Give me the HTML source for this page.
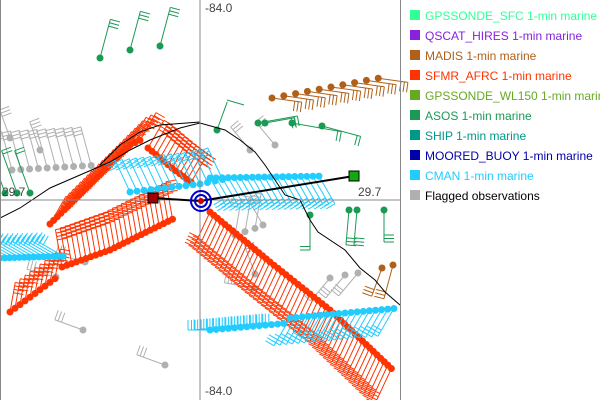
<!DOCTYPE html><html><head><style>body{margin:0;background:#fff}svg{display:block}</style></head><body>
<svg id="s" width="600" height="400" xmlns="http://www.w3.org/2000/svg" font-family="Liberation Sans, DejaVu Sans, sans-serif">
<rect width="600" height="400" fill="#fff"/>
<g id="g"></g>
<polyline points="0,218 20,208 50,188 80,175 110,162 130,150 150,140 180,128 200,123 225,130 240,140 255,152 265,165 275,180 285,195 300,200 310,220 318,232 345,250 360,268 375,280 385,292 400,305" fill="none" stroke="#000"/>
<polyline points="100,165 120,145 140,132 160,125 200,122" fill="none" stroke="#000"/>
<line x1="200" y1="0" x2="200" y2="400" stroke="#888"/>
<line x1="0" y1="200" x2="400" y2="200" stroke="#888"/>
<line x1="400.5" y1="0" x2="400.5" y2="400" stroke="#888"/>
<line x1="0.5" y1="0" x2="0.5" y2="400" stroke="#888"/>
<text x="205" y="12" font-size="12" fill="#444">-84.0</text>
<text x="205" y="395" font-size="12" fill="#444">-84.0</text>
<text x="358" y="196" font-size="12" fill="#444">29.7</text>
<text x="2" y="196" font-size="12" fill="#444">29.7</text>
<line x1="153" y1="198" x2="200" y2="201" stroke="#000" stroke-width="2"/>
<line x1="200" y1="201" x2="354" y2="176" stroke="#000" stroke-width="2"/>
<rect x="148" y="193" width="10" height="10" fill="#a00000" stroke="#000"/>
<rect x="349" y="171" width="10" height="10" fill="#1a1" stroke="#000"/>
<circle cx="201" cy="201" r="10" fill="none" stroke="#00c" stroke-width="2"/>
<circle cx="201" cy="201" r="6" fill="none" stroke="#00c" stroke-width="2"/>
<circle cx="201" cy="201" r="3" fill="#c00"/>
<g id="leg" font-size="12"></g>
</svg>
<script>
var h='';
function barb(x,y,ang,len,col,n,side){var r=ang*Math.PI/180,ex=x+len*Math.cos(r),ey=y+len*Math.sin(r);
h+='<line x1="'+x+'" y1="'+y+'" x2="'+ex+'" y2="'+ey+'" stroke="'+col+'"/>';
var pa=r+side*Math.PI/2;for(var i=0;i<n;i++){var bx=ex-i*3.5*Math.cos(r),by=ey-i*3.5*Math.sin(r);
h+='<line x1="'+bx+'" y1="'+by+'" x2="'+(bx+10*Math.cos(pa))+'" y2="'+(by+10*Math.sin(pa))+'" stroke="'+col+'"/>';}
h+='<circle cx="'+x+'" cy="'+y+'" r="3.5" fill="'+col+'"/>';}
function ser(pts,step,ang,len,col,n,side){for(var k=0;k<pts.length-1;k++){var a=pts[k],b=pts[k+1],d=Math.hypot(b[0]-a[0],b[1]-a[1]),m=Math.max(1,Math.round(d/step));
for(var i=0;i<m;i++){var t=i/m;barb(a[0]+(b[0]-a[0])*t,a[1]+(b[1]-a[1])*t,ang,len,col,n,side);}}}
var R='#ff3300',C='#22ccff',G='#b0b0b0',GR='#1a9a55',BR='#b06018';
ser([[12,170],[100,165]],9,-105,40,G,3,-1);
ser([[235,235],[265,225]],12,-80,35,G,3,-1);
ser([[255,274],[262,272]],10,-110,30,G,3,1);
barb(85,262,195,30,G,3,1);barb(56,277,195,30,G,3,1);barb(83,330,200,30,G,3,1);barb(165,365,200,30,G,3,1);barb(254,288,190,30,G,3,1);barb(263,225,-120,30,G,3,1);
barb(330,278,130,30,G,3,1);barb(345,275,130,30,G,3,1);barb(358,273,130,30,G,3,1);
barb(10,138,-110,30,G,3,1);barb(40,150,-110,30,G,3,1);
ser([[250,150],[300,140]],25,-130,30,G,3,1);
ser([[10,312],[60,275]],6,-80,30,R,4,1);
ser([[50,224],[130,145],[145,138]],5,-60,32,R,4,1);
ser([[62,267],[110,250],[177,217]],5,-100,38,R,4,1);
ser([[148,148],[172,168],[195,185]],5,-60,32,R,4,1);
ser([[210,212],[270,262],[330,310],[395,372]],5,115,38,R,4,1);
ser([[130,192],[200,184],[230,178]],7,-115,35,C,3,-1);
ser([[210,178],[325,176]],6,60,32,C,3,1);
ser([[0,258],[68,256]],5,-150,30,C,3,1);
ser([[210,330],[290,323]],6,180,22,C,3,1);
ser([[290,318],[400,308]],6,120,32,C,3,1);
barb(17,193,-110,45,GR,2,1);barb(30,193,-110,45,GR,2,1);barb(5,193,-110,45,GR,2,1);
barb(100,58,-75,40,GR,3,1);barb(130,50,-75,40,GR,3,1);barb(160,46,-75,40,GR,3,1);
barb(217,130,-70,30,GR,0,1);h+='<polyline points="227,100 244,105" stroke="'+GR+'" fill="none"/>';
barb(258,123,-10,40,GR,2,1);barb(265,123,-10,30,GR,2,1);barb(292,123,10,50,GR,2,1);barb(322,126,15,40,GR,2,1);
barb(310,215,90,35,GR,2,1);barb(349,210,95,35,GR,3,-1);barb(357,210,95,35,GR,3,-1);barb(384,210,90,32,GR,3,-1);
ser([[272,98],[390,76]],12,8,30,BR,3,1);
barb(382,268,110,30,BR,3,1);barb(393,265,105,35,BR,3,1);
document.getElementById('g').innerHTML=h;
var L=[['#33ff99','GPSSONDE_SFC 1-min marine'],['#8822dd','QSCAT_HIRES 1-min marine'],['#b06018','MADIS 1-min marine'],['#ff3300','SFMR_AFRC 1-min marine'],['#66aa22','GPSSONDE_WL150 1-min marine'],['#1a9a55','ASOS 1-min marine'],['#009988','SHIP 1-min marine'],['#0000aa','MOORED_BUOY 1-min marine'],['#22ccff','CMAN 1-min marine'],['#b0b0b0','Flagged observations']],s='';
L.forEach(function(l,i){var y=10+i*20;s+='<rect x="410" y="'+y+'" width="10" height="10" fill="'+l[0]+'"/><text x="425" y="'+(y+10)+'" fill="'+(i==9?'#000':l[0])+'">'+l[1]+'</text>';});
document.getElementById('leg').innerHTML=s;
</script></body></html>
